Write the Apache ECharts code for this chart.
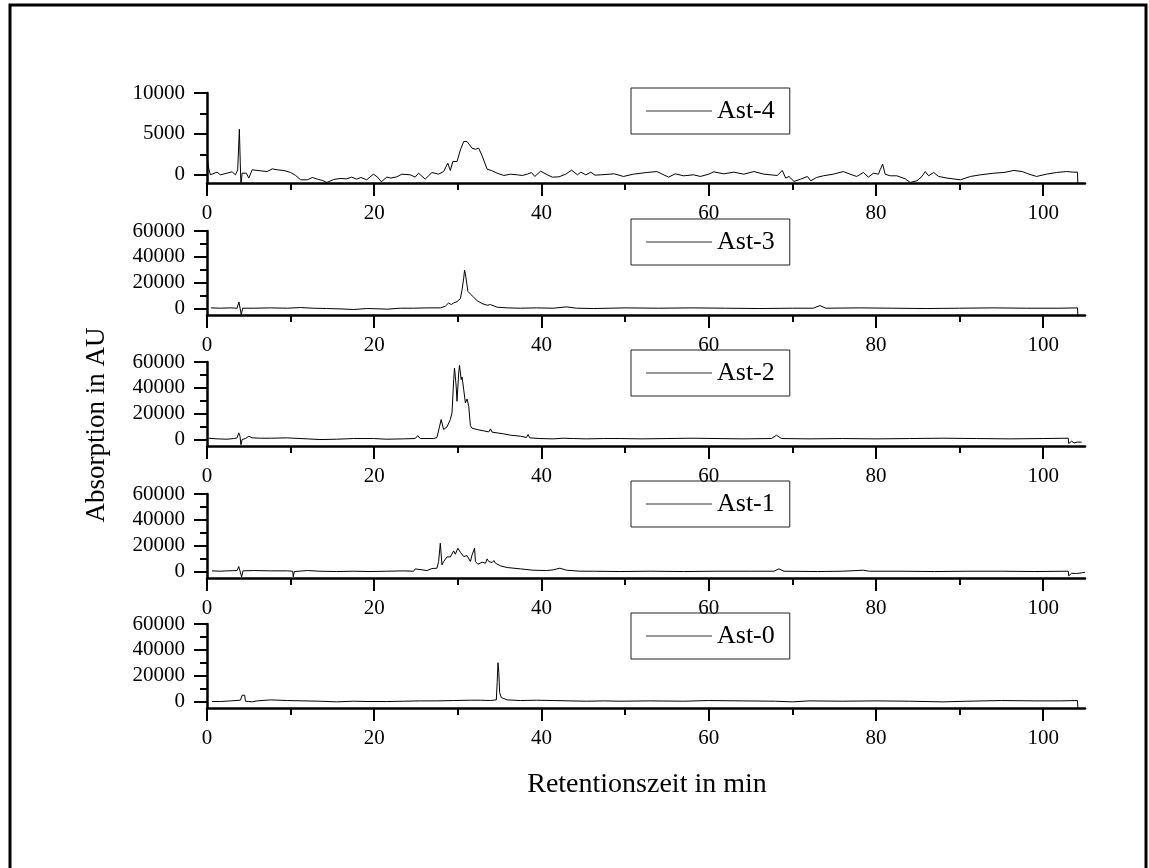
<!DOCTYPE html>
<html>
<head>
<meta charset="utf-8">
<script src="https://cdn.jsdelivr.net/npm/echarts@6/dist/echarts.min.js"></script>
<style>html,body{margin:0;padding:0;background:#fff}#c{width:1149px;height:868px}</style>
</head>
<body>
<div id="c"></div>
<script>
// ---- data (retention time in min, absorption in AU) ----
const seriesNames = ['Ast-4', 'Ast-3', 'Ast-2', 'Ast-1', 'Ast-0'];

const ast4 = [[0,2236],[0.2,813],[0.4,0],[1.2,325],[1.6,0],[2.4,203],[3.0,366],[3.4,0],[3.67,610],[3.87,5570],[3.98,1420],[4.06,-1200],[4.2,203],[4.7,200],[5.0,-400],[5.4,610],[6.4,490],[7.2,400],[7.8,730],[8.4,610],[9.2,530],[10.0,285],[10.6,-80],[11.2,-610],[12.0,-610],[12.6,-325],[13.2,-530],[13.8,-690],[14.35,-935],[15.15,-570],[15.9,-450],[16.7,-490],[17.3,-285],[17.9,-530],[18.4,-325],[19.1,-610],[19.9,80],[20.4,-285],[20.85,-850],[21.5,-285],[22.0,-400],[22.7,-245],[23.3,80],[24.3,0],[24.9,-285],[25.3,200],[26.1,-530],[26.9,285],[27.7,80],[28.3,400],[28.8,1420],[29.1,530],[29.4,1630],[29.9,1630],[30.3,3050],[30.7,4065],[31.1,4065],[31.4,3660],[31.7,3250],[32.1,3130],[32.5,3250],[32.9,2320],[33.5,690],[34.0,530],[34.7,200],[35.5,-80],[36.3,80],[37.1,0],[37.7,-80],[38.3,80],[38.8,285],[39.2,-200],[39.9,450],[40.7,0],[41.3,-285],[42.1,-245],[42.9,80],[43.6,570],[44.3,0],[44.7,325],[45.3,0],[45.9,325],[46.4,-40],[47.1,0],[48.7,120],[49.8,-200],[51.0,80],[52.6,285],[53.8,400],[55.2,-285],[56.0,120],[57.0,-120],[58.2,0],[59.0,-200],[60.0,80],[60.6,365],[61.8,120],[63.0,325],[64.2,80],[65.4,400],[66.6,80],[68.2,-80],[68.8,530],[69.2,-400],[69.6,-200],[70.2,-810],[71.0,-530],[71.8,-200],[72.2,-730],[72.9,-325],[73.7,-120],[74.9,80],[76.1,400],[76.9,80],[77.7,-200],[78.5,285],[79.1,-285],[79.7,200],[80.3,80],[80.5,610],[80.8,1300],[81.1,80],[81.7,-120],[82.5,-120],[83.5,-490],[84.1,-935],[84.9,-730],[85.5,-200],[85.9,400],[86.3,-120],[86.9,285],[87.5,-200],[88.5,-400],[90.1,-610],[91.3,-200],[92.5,0],[94.1,200],[95.3,285],[96.5,530],[97.5,400],[98.2,120],[99.2,-200],[100.4,80],[101.6,285],[102.8,400],[103.6,325],[104.1,325],[104.15,-1200]];

const ast3 = [[0.48,510],[1.6,255],[2.8,510],[3.6,255],[3.82,5100],[3.98,4600],[4.1,-5000],[4.26,255],[5.6,255],[7.6,510],[9.6,255],[11.2,765],[12.7,255],[14.3,0],[15.9,-255],[17.5,-765],[19.1,0],[20.7,-255],[21.5,-510],[23.1,255],[24.7,255],[26.3,510],[27.9,510],[28.5,1790],[28.9,4340],[29.2,3060],[29.5,4340],[29.9,5360],[30.3,7660],[30.5,14550],[30.7,23500],[30.8,29600],[30.9,27060],[31.1,27060],[31.2,13300],[31.5,11230],[31.9,8680],[32.3,6130],[32.9,3830],[33.5,2550],[33.9,3060],[34.7,1020],[35.9,510],[37.5,255],[39.4,510],[41.4,255],[43.0,1280],[44.2,255],[46.2,0],[48.2,255],[50,510],[54,255],[58,510],[62,255],[66,0],[70,255],[72.5,255],[73.3,2300],[74,255],[78,510],[82,255],[86,0],[90,255],[94,510],[98,255],[102,255],[104.1,510],[104.15,-5000]];

const ast2 = [[0.2,1030],[1.2,515],[2.4,258],[3.2,770],[3.6,1290],[3.8,5150],[3.95,2580],[4.06,-4000],[4.2,0],[4.6,770],[5.0,2580],[5.4,1290],[6.4,1030],[7.6,1030],[9.6,1290],[10.4,1030],[12.0,515],[13.5,0],[15.5,258],[17.5,770],[19.9,770],[21.5,258],[23.5,515],[24.9,770],[25.2,3090],[25.5,770],[27.1,770],[27.5,1545],[27.8,9790],[28.0,15450],[28.3,7730],[28.7,9790],[29.1,15450],[29.3,20600],[29.5,46350],[29.6,55360],[29.8,41200],[29.9,29600],[30.1,51500],[30.2,57400],[30.4,46350],[30.5,48400],[30.7,38600],[30.9,28300],[31.1,31400],[31.3,25750],[31.5,10800],[31.7,8750],[32.3,7730],[33.1,6700],[33.7,5920],[33.9,8240],[34.1,5670],[34.7,5150],[35.5,4380],[36.3,3350],[37.5,2580],[38.2,1545],[38.4,3860],[38.6,1290],[39.8,770],[41.4,515],[42.6,1030],[43.8,770],[45.4,515],[47.4,770],[49.4,770],[52,515],[55,770],[58,1030],[61,770],[64,515],[67.5,770],[68.1,3350],[68.7,770],[72,515],[76,770],[80,515],[84,770],[88,1030],[92,770],[96,515],[100,770],[103.0,1030],[103.05,-3100],[103.4,-1300],[103.7,-2600],[104.1,-2000],[104.6,-2000]];

const ast1 = [[0.6,515],[1.6,258],[2.4,515],[3.6,770],[3.8,3860],[3.98,3600],[4.14,-4100],[4.3,515],[5.6,770],[7.6,515],[9.6,515],[10.24,258],[10.32,-4100],[10.44,0],[12.0,770],[13.5,258],[15.5,0],[17.5,258],[19.5,0],[21.5,258],[23.5,515],[24.7,258],[24.9,2060],[25.1,515],[26.3,770],[26.9,2320],[27.5,2575],[27.7,7730],[27.9,21900],[28.1,5150],[28.3,7730],[28.7,11330],[29.1,11330],[29.5,15970],[29.7,13400],[30.0,18030],[30.3,14940],[30.7,11590],[31.1,12360],[31.5,7730],[31.7,12900],[32.0,18030],[32.1,7730],[32.4,5670],[32.9,7200],[33.3,6440],[33.5,9790],[33.7,7730],[33.9,8240],[34.1,6950],[34.3,8500],[34.5,6440],[34.7,7730],[35.1,4380],[35.9,3090],[37.5,2060],[39.0,1030],[40.6,770],[41.4,1290],[42.2,2575],[43.0,1030],[44.6,258],[46.2,258],[49.4,0],[53,258],[57,0],[61,258],[65,258],[67.8,258],[68.4,2060],[69,258],[73,0],[76,258],[78.5,1030],[79.2,258],[83,258],[87,0],[91,258],[95,258],[99,0],[103.0,258],[103.05,-3350],[103.4,-1290],[104,-1550],[104.6,-1000],[105,-515]];

const ast0 = [[0.6,0],[1.6,0],[2.8,510],[4.0,1030],[4.2,4870],[4.3,6400],[4.5,4870],[4.6,256],[4.7,-770],[5.0,0],[5.4,-256],[5.6,-770],[6.0,510],[7.6,1280],[9.6,770],[11.6,510],[13.5,256],[15.5,-256],[17.5,256],[19.5,0],[21.5,0],[23.5,256],[25.5,510],[27.5,510],[29.5,770],[31.5,1030],[32.7,1030],[33.9,770],[34.6,1280],[34.7,14600],[34.8,30000],[34.9,22300],[35.0,6920],[35.2,3080],[35.9,1280],[37.5,770],[39.4,1030],[41.4,770],[43.4,510],[45.4,256],[47.4,510],[49.4,256],[53,510],[57,256],[60,770],[64,510],[68,256],[70,-256],[72,510],[76,256],[80,510],[84,256],[88,-256],[91,256],[95,770],[99,510],[102,510],[104.1,770],[104.15,-5000]];

const allData = [ast4, ast3, ast2, ast1, ast0];

// axis ticks / labels
const xMajor = [0, 20, 40, 60, 80, 100];
const xMinor = [10, 30, 50, 70, 90];
const yRange = [[-1000, 10000], [-5000, 60000], [-5000, 60000], [-5000, 60000], [-5000, 60000]];
const yMajor = [[0, 5000, 10000], [0, 20000, 40000, 60000], [0, 20000, 40000, 60000], [0, 20000, 40000, 60000], [0, 20000, 40000, 60000]];
const yMinor = [[2500, 7500], [10000, 30000, 50000], [10000, 30000, 50000], [10000, 30000, 50000], [10000, 30000, 50000]];

// ---- layout ----
const FONT = "'Liberation Serif', 'Times New Roman', serif";
const gridTops = [93, 231, 362, 494, 624];
const gridHeights = [90, 84, 84, 84, 84];
const legendTops = [88, 219, 350, 481, 613];
const plain = v => String(v);

const grids = [], xAxes = [], yAxes = [], series = [], legends = [];
for (let i = 0; i < 5; i++) {
  grids.push({ left: 207, width: 878, top: gridTops[i], height: gridHeights[i] });
  xAxes.push({
    gridIndex: i, type: 'value', min: 0, max: 105, position: 'bottom',
    axisLine: { onZero: false, lineStyle: { color: '#000', width: 2.5 } },
    axisTick: { customValues: xMajor, length: 13, lineStyle: { color: '#000', width: 2 } },
    axisLabel: { customValues: xMajor, margin: 20, fontSize: 21, fontFamily: FONT, color: '#000', formatter: plain },
    splitLine: { show: false }
  });
  xAxes.push({
    gridIndex: i, type: 'value', min: 0, max: 105, position: 'bottom', offset: 0,
    axisLine: { show: false, onZero: false },
    axisTick: { customValues: xMinor, length: 7, lineStyle: { color: '#000', width: 2 } },
    axisLabel: { show: false },
    splitLine: { show: false }
  });
  yAxes.push({
    gridIndex: i, type: 'value', min: yRange[i][0], max: yRange[i][1], position: 'left',
    axisLine: { show: true, onZero: false, lineStyle: { color: '#000', width: 2.5 } },
    axisTick: { show: true, customValues: yMajor[i], length: 13, lineStyle: { color: '#000', width: 2 } },
    axisLabel: { customValues: yMajor[i], margin: 22, fontSize: 21, fontFamily: FONT, color: '#000', formatter: plain },
    splitLine: { show: false }
  });
  yAxes.push({
    gridIndex: i, type: 'value', min: yRange[i][0], max: yRange[i][1], position: 'left', offset: 0,
    axisLine: { show: false, onZero: false },
    axisTick: { show: true, customValues: yMinor[i], length: 7, lineStyle: { color: '#000', width: 2 } },
    axisLabel: { show: false },
    splitLine: { show: false }
  });
  series.push({
    name: seriesNames[i], type: 'line', xAxisIndex: 2 * i, yAxisIndex: 2 * i,
    data: allData[i], symbol: 'none', showSymbol: false, clip: true,
    lineStyle: { color: '#000', width: 1 }, itemStyle: { color: '#000' }
  });
  legends.push({
    data: [seriesNames[i]], left: 631, top: legendTops[i],
    borderColor: '#222', borderWidth: 1, padding: [10, 15, 10, 15],
    icon: 'rect', itemWidth: 66, itemHeight: 1, itemGap: 0,
    itemStyle: { color: '#333', borderWidth: 0 },
    textStyle: { fontSize: 26, fontFamily: FONT, color: '#000' }
  });
}

const chart = echarts.init(document.getElementById('c'), null, { renderer: 'canvas' });
chart.setOption({
  animation: false,
  backgroundColor: '#fff',
  grid: grids, xAxis: xAxes, yAxis: yAxes, series: series, legend: legends,
  graphic: [
    { type: 'rect', silent: true, shape: { x: 10, y: 5, width: 1136, height: 872 },
      style: { fill: 'none', stroke: '#000', lineWidth: 3 } },
    { type: 'text', silent: true, x: 97, y: 425, rotation: Math.PI / 2,
      style: { text: 'Absorption in AU', fontSize: 27, fontFamily: FONT, fill: '#000', align: 'center', verticalAlign: 'middle' } },
    { type: 'text', silent: true, x: 647, y: 785,
      style: { text: 'Retentionszeit in min', fontSize: 28, fontFamily: FONT, fill: '#000', align: 'center', verticalAlign: 'middle' } }
  ]
});
</script>
</body>
</html>
